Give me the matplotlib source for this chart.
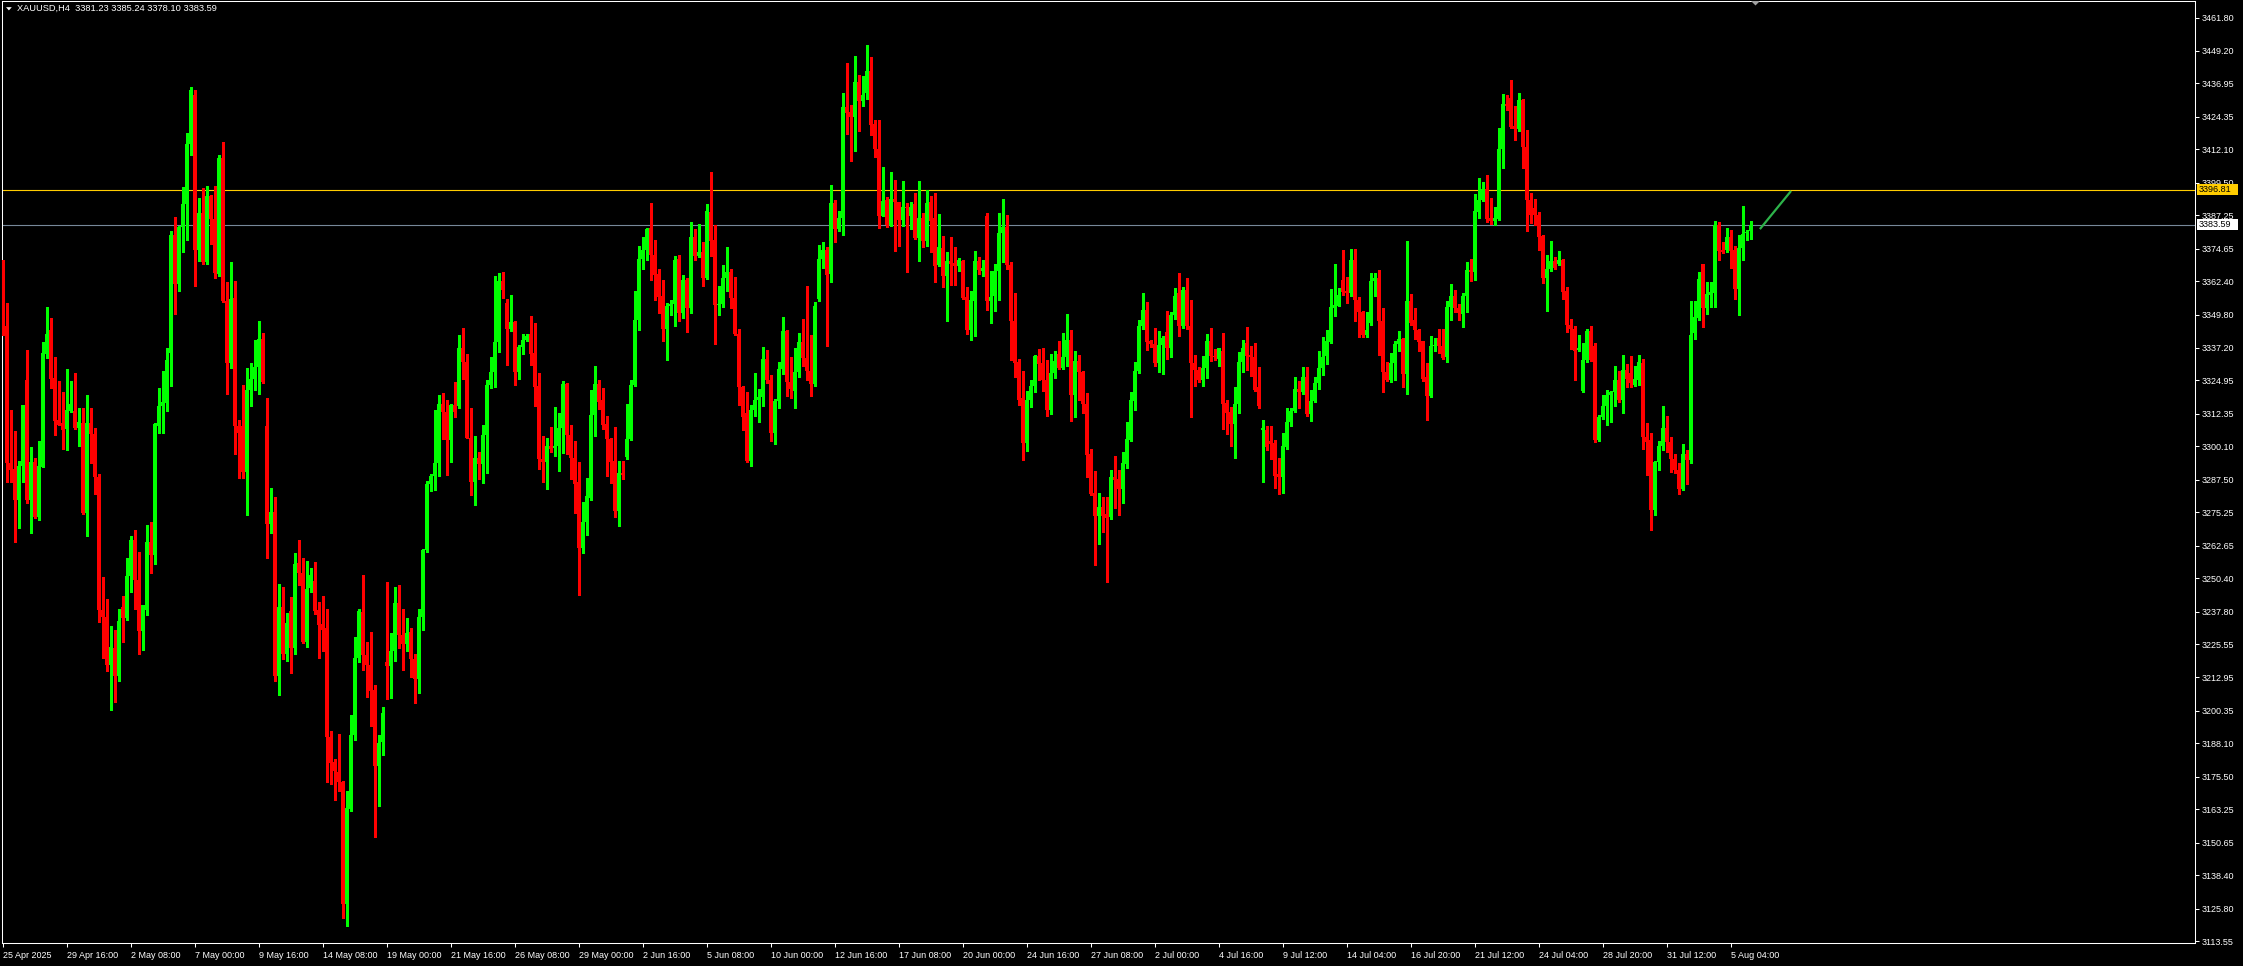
import matplotlib
matplotlib.use("Agg")
import matplotlib.pyplot as plt
from matplotlib.patches import Polygon, Rectangle
from matplotlib.transforms import blended_transform_factory
import numpy as np

plt.rcParams['font.family'] = ['Liberation Sans', 'DejaVu Sans']

# ---------------- data (XAUUSD H4 candles) ----------------
opens = [
 3351.5,3345.5,3293.9,3291.6,3279.8,3292.6,3325.1,3279.8,3294.3,3273.6,
 3292.4,3335.0,3344.0,3325.7,3310.0,3308.8,3306.7,3313.5,3313.5,3306.9,
 3308.8,3275.1,3308.8,3304.8,3288.7,3238.3,3235.8,3217.6,3223.9,3213.5,
 3239.5,3235.2,3251.1,3264.8,3249.7,3230.5,3238.3,3264.1,3259.0,3307.7,
 3315.2,3316.4,3335.4,3379.8,3361.4,3382.9,3391.6,3414.1,3432.5,3374.3,
 3387.9,3369.5,3394.5,3386.0,3365.0,3408.8,3355.0,3331.5,3356.1,3307.7,
 3307.7,3290.6,3321.2,3325.5,3330.2,3340.6,3307.9,3270.9,3275.3,3213.5,
 3239.7,3221.8,3238.1,3224.1,3256.1,3252.4,3226.3,3246.6,3249.5,3238.5,
 3233.1,3231.7,3190.4,3181.1,3177.2,3173.4,3127.4,3163.5,3191.2,3220.3,
 3237.7,3221.4,3217.6,3208.3,3179.6,3188.7,3218.6,3217.2,3223.0,3241.2,
 3229.0,3225.5,3230.0,3219.9,3212.5,3235.6,3261.0,3285.8,3289.1,3293.7,
 3316.0,3312.9,3302.3,3315.6,3315.4,3337.1,3331.8,3303.4,3286.5,3295.7,
 3293.5,3304.4,3323.2,3328.0,3339.5,3362.3,3354.0,3344.2,3346.9,3328.0,
 3337.5,3340.3,3342.3,3335.3,3322.8,3295.2,3294.3,3300.3,3299.5,3300.3,
 3307.1,3323.5,3304.4,3295.7,3286.5,3261.9,3271.4,3280.6,3312.1,3323.5,
 3317.7,3308.7,3303.0,3294.7,3275.7,3290.0,3296.2,3302.7,3323.1,3347.7,
 3370.6,3374.1,3382.4,3372.3,3365.0,3356.8,3344.5,3352.9,3353.6,3370.9,
 3350.2,3362.7,3352.2,3379.1,3372.0,3373.4,3363.6,3388.5,3378.0,3353.3,
 3353.7,3363.4,3365.7,3356.1,3342.5,3322.6,3312.5,3294.7,3313.9,3317.7,
 3318.6,3333.2,3325.2,3305.2,3317.2,3329.4,3343.5,3324.2,3321.0,3328.0,
 3339.3,3333.3,3328.6,3323.5,3355.8,3370.6,3374.1,3364.9,3392.0,3382.1,
 3386.1,3427.9,3426.2,3424.1,3437.3,3430.4,3433.2,3441.6,3421.5,3412.4,
 3387.1,3392.8,3383.7,3393.4,3392.2,3385.5,3390.5,3387.1,3391.6,3378.7,
 3386.3,3377.7,3392.4,3386.3,3368.4,3374.8,3364.2,3370.1,3369.1,3368.0,
 3369.8,3356.5,3344.1,3355.0,3370.1,3366.3,3386.8,3354.8,3356.6,3366.1,
 3380.6,3382.7,3368.3,3347.5,3332.0,3318.2,3301.5,3317.6,3322.8,3334.3,
 3331.5,3325.2,3313.9,3327.9,3334.9,3329.8,3333.9,3340.2,3319.4,3332.4,
 3328.0,3316.0,3297.1,3282.6,3273.8,3277.2,3274.7,3273.5,3288.5,3287.9,
 3284.1,3293.6,3302.4,3317.3,3328.4,3345.6,3351.6,3339.7,3338.7,3331.7,
 3338.3,3343.3,3337.2,3349.6,3357.9,3345.3,3359.1,3345.3,3331.7,3328.8,
 3325.1,3329.8,3339.7,3334.3,3333.2,3335.9,3316.6,3313.2,3308.7,3316.2,
 3332.0,3338.9,3334.6,3333.9,3322.3,3306.3,3306.2,3302.1,3301.5,3289.5,
 3288.5,3300.0,3309.1,3313.5,3321.9,3320.7,3326.4,3312.2,3317.3,3323.8,
 3329.5,3334.1,3339.4,3352.4,3353.2,3362.8,3358.7,3357.8,3370.3,3355.3,
 3350.9,3341.9,3346.6,3362.4,3363.4,3347.2,3328.3,3325.1,3331.4,3338.5,
 3340.4,3327.3,3354.9,3347.8,3344.1,3339.7,3326.3,3319.2,3337.9,3341.0,
 3338.1,3333.7,3352.8,3356.8,3352.4,3350.0,3356.6,3366.5,3365.9,3388.4,
 3393.1,3397.3,3386.1,3385.2,3385.9,3412.1,3429.1,3431.6,3420.8,3419.8,
 3430.8,3413.0,3393.0,3389.9,3387.4,3379.3,3363.7,3366.8,3369.9,3368.7,
 3370.3,3358.8,3346.0,3344.3,3336.6,3321.0,3332.5,3343.7,3338.1,3302.3,
 3311.1,3315.4,3319.4,3320.4,3325.0,3317.7,3328.8,3327.6,3323.4,3325.1,
 3331.6,3303.8,3302.3,3276.1,3294.2,3300.2,3307.1,3301.7,3295.5,3291.1,
 3284.0,3297.3,3294.8,3342.8,3348.5,3368.8,3352.2,3357.2,3358.1,3383.6,
 3374.3,3374.0,3379.0,3374.0,3359.4,3375.0,3380.5,3381.23]

highs = [
 3370.5,3354.2,3313.9,3306.0,3294.7,3315.6,3336.4,3300.0,3295.7,3302.0,
 3339.5,3352.8,3348.4,3333.8,3324.7,3320.5,3329.4,3324.7,3327.6,3314.4,
 3314.4,3319.3,3314.4,3306.9,3289.5,3250.7,3242.4,3232.5,3230.9,3238.7,
 3243.5,3257.9,3266.2,3268.5,3260.4,3240.2,3270.3,3271.6,3308.8,3322.0,
 3328.4,3337.1,3381.3,3386.6,3383.3,3397.8,3418.1,3435.5,3434.6,3393.7,
 3397.4,3398.2,3394.9,3398.2,3410.0,3414.9,3361.9,3369.5,3362.5,3310.2,
 3323.4,3329.8,3331.7,3340.2,3347.4,3342.9,3318.3,3284.4,3280.9,3248.2,
 3247.0,3237.1,3243.3,3259.8,3264.7,3257.9,3256.9,3254.2,3256.5,3241.4,
 3243.5,3238.7,3192.9,3182.1,3191.6,3174.0,3170.1,3198.8,3228.2,3238.7,
 3251.5,3226.5,3230.2,3210.0,3191.4,3201.9,3248.9,3229.6,3247.0,3247.8,
 3238.9,3235.2,3231.7,3221.8,3238.7,3261.5,3286.9,3289.5,3313.9,3319.3,
 3320.1,3317.4,3316.0,3324.5,3342.1,3344.9,3335.0,3314.6,3304.1,3298.0,
 3308.0,3325.2,3333.6,3364.3,3365.3,3365.7,3355.8,3357.3,3347.2,3338.3,
 3342.4,3342.4,3349.4,3346.7,3327.7,3304.1,3303.4,3307.2,3315.1,3312.5,
 3324.8,3323.8,3308.3,3302.0,3294.3,3279.1,3288.2,3321.4,3330.4,3325.2,
 3322.1,3311.6,3303.4,3307.2,3294.7,3294.7,3316.1,3325.2,3358.5,3375.8,
 3379.1,3382.4,3392.0,3377.9,3367.0,3362.7,3354.0,3355.1,3371.9,3372.3,
 3364.8,3363.4,3384.5,3382.1,3384.0,3377.2,3391.3,3403.5,3383.4,3360.6,
 3368.4,3375.1,3367.0,3363.9,3344.5,3323.0,3320.5,3315.7,3327.7,3321.7,
 3337.6,3336.4,3326.9,3318.1,3331.8,3348.8,3344.0,3333.9,3337.1,3342.8,
 3348.0,3360.6,3342.1,3354.7,3376.2,3377.2,3375.1,3398.8,3393.0,3388.8,
 3433.5,3444.7,3428.8,3447.1,3440.1,3439.8,3451.5,3446.9,3423.0,3423.0,
 3405.6,3394.1,3403.5,3400.4,3392.4,3400.0,3392.0,3392.2,3395.7,3400.0,
 3388.2,3396.6,3394.5,3395.6,3387.8,3379.3,3373.5,3379.0,3375.4,3371.2,
 3370.4,3360.3,3358.8,3373.9,3371.4,3370.4,3388.0,3366.4,3368.9,3388.0,
 3393.4,3387.5,3369.5,3357.8,3333.2,3328.6,3321.0,3325.2,3334.6,3336.8,
 3337.0,3332.6,3335.1,3335.9,3339.9,3342.8,3350.0,3344.0,3335.9,3334.6,
 3328.5,3320.2,3299.2,3290.8,3282.4,3281.0,3281.0,3291.2,3296.5,3291.2,
 3298.1,3309.3,3320.7,3332.0,3347.9,3357.9,3354.4,3340.2,3344.6,3343.7,
 3341.6,3351.3,3350.9,3359.8,3365.5,3360.3,3363.6,3355.3,3334.6,3330.1,
 3334.3,3342.4,3344.7,3336.8,3337.3,3342.7,3317.6,3315.1,3322.3,3335.8,
 3340.3,3345.2,3338.0,3339.0,3329.9,3310.1,3307.8,3307.8,3302.4,3295.8,
 3305.3,3314.7,3314.7,3326.1,3324.8,3330.2,3330.2,3321.4,3326.1,3335.9,
 3341.4,3344.1,3359.4,3368.8,3359.7,3374.0,3364.0,3374.6,3374.6,3356.3,
 3351.3,3350.9,3365.3,3365.3,3366.5,3352.2,3332.0,3335.4,3340.0,3343.5,
 3341.0,3377.4,3357.6,3352.4,3344.3,3339.9,3331.4,3341.6,3341.0,3344.3,
 3344.3,3354.9,3361.2,3359.1,3353.7,3357.8,3369.7,3370.7,3395.2,3401.2,
 3399.6,3402.3,3393.6,3390.5,3420.2,3433.0,3432.4,3438.2,3428.3,3433.3,
 3431.2,3419.5,3395.6,3393.4,3388.4,3379.9,3372.1,3377.4,3371.5,3373.6,
 3370.7,3360.1,3348.2,3345.3,3341.9,3338.9,3344.3,3345.6,3339.1,3312.0,
 3319.4,3321.3,3321.0,3330.4,3328.5,3334.4,3331.0,3334.1,3330.4,3334.4,
 3333.2,3308.9,3305.2,3294.6,3302.1,3315.4,3311.4,3303.6,3297.1,3293.8,
 3300.8,3298.6,3354.9,3355.0,3366.0,3369.0,3362.2,3362.2,3385.2,3384.6,
 3377.1,3382.4,3381.5,3375.5,3379.6,3390.6,3381.5,3385.24]

lows = [
 3342.0,3286.5,3286.5,3264.0,3269.3,3286.5,3278.6,3267.4,3273.0,3272.4,
 3292.4,3333.5,3322.2,3304.4,3308.0,3299.2,3298.8,3312.9,3306.7,3300.3,
 3274.5,3266.2,3293.7,3282.3,3233.8,3220.3,3215.2,3200.7,3203.8,3211.7,
 3226.3,3234.8,3245.1,3238.7,3221.8,3223.4,3236.6,3252.4,3255.9,3305.0,
 3305.0,3313.5,3323.0,3349.9,3358.8,3373.2,3377.8,3410.0,3360.4,3369.9,
 3368.8,3368.9,3376.3,3363.5,3364.5,3354.4,3319.9,3329.8,3297.2,3288.1,
 3288.1,3274.1,3315.2,3321.2,3319.9,3323.8,3257.9,3267.4,3211.7,3206.5,
 3219.9,3219.3,3214.7,3221.8,3247.8,3225.8,3224.3,3245.1,3236.9,3220.3,
 3223.0,3173.7,3172.8,3166.6,3170.3,3122.2,3119.1,3162.5,3189.3,3218.9,
 3215.8,3205.5,3194.5,3152.8,3164.6,3183.6,3204.8,3205.3,3219.0,3223.9,
 3215.8,3223.0,3213.0,3203.4,3206.9,3230.7,3260.2,3283.3,3283.7,3288.9,
 3303.0,3289.3,3294.2,3311.1,3314.6,3325.5,3303.1,3281.9,3278.1,3287.9,
 3286.1,3290.0,3322.1,3322.6,3335.7,3356.1,3330.8,3343.4,3323.1,3325.5,
 3335.0,3340.0,3330.8,3315.4,3291.4,3286.8,3284.1,3297.8,3296.4,3290.7,
 3297.5,3297.1,3287.6,3275.0,3243.9,3259.8,3266.8,3280.0,3304.1,3314.2,
 3306.6,3288.9,3286.1,3273.4,3269.9,3287.9,3295.4,3302.3,3322.8,3343.8,
 3367.0,3370.5,3362.9,3355.4,3350.5,3339.9,3332.5,3349.8,3345.6,3347.3,
 3348.4,3343.1,3350.2,3370.2,3371.5,3360.6,3363.2,3371.9,3338.8,3349.8,
 3352.6,3358.5,3352.2,3342.0,3315.8,3306.2,3294.2,3292.6,3311.6,3309.4,
 3315.4,3324.1,3302.0,3301.0,3314.6,3327.3,3318.9,3318.4,3314.6,3326.3,
 3330.5,3325.2,3318.9,3322.8,3355.0,3367.4,3337.8,3362.0,3377.2,3381.4,
 3379.6,3418.0,3407.7,3411.4,3419.0,3428.6,3431.0,3417.6,3409.2,3382.6,
 3386.8,3382.7,3383.0,3373.7,3375.6,3383.0,3365.7,3381.9,3378.3,3370.1,
 3375.2,3375.6,3373.5,3362.2,3368.0,3360.1,3347.2,3361.1,3361.1,3366.1,
 3355.6,3342.4,3340.2,3341.6,3364.9,3364.2,3351.5,3346.5,3351.3,3355.3,
 3369.5,3366.8,3332.7,3326.3,3315.6,3295.0,3298.4,3315.1,3320.4,3325.1,
 3321.0,3311.6,3312.2,3325.8,3329.2,3329.2,3330.5,3309.5,3311.3,3317.6,
 3312.8,3288.7,3281.6,3255.5,3263.4,3267.9,3248.9,3272.8,3277.0,3274.1,
 3278.8,3292.1,3302.0,3313.9,3327.9,3344.3,3336.5,3337.4,3330.5,3328.3,
 3327.3,3333.0,3333.6,3348.1,3341.6,3344.7,3344.3,3311.3,3322.7,3324.5,
 3322.9,3325.8,3332.3,3332.7,3330.5,3306.6,3304.7,3300.3,3295.8,3312.6,
 3328.3,3328.8,3326.7,3320.8,3314.7,3286.8,3298.6,3295.2,3284.3,3282.2,
 3282.6,3299.0,3307.6,3313.2,3314.4,3319.8,3311.6,3309.7,3316.9,3321.7,
 3327.1,3331.0,3339.1,3349.3,3353.1,3357.2,3354.1,3356.6,3347.2,3341.3,
 3341.5,3341.3,3346.0,3356.6,3334.5,3320.4,3324.8,3324.4,3325.1,3336.0,
 3322.3,3320.0,3345.8,3340.4,3336.2,3324.8,3310.2,3318.6,3336.0,3335.4,
 3333.2,3332.0,3347.9,3350.7,3347.9,3345.0,3350.6,3362.6,3363.0,3386.2,
 3392.7,3384.6,3384.0,3383.4,3385.5,3404.9,3426.8,3420.0,3415.5,3418.9,
 3405.2,3381.3,3384.2,3383.7,3374.3,3361.8,3351.3,3366.2,3366.8,3368.3,
 3355.6,3343.2,3336.9,3325.1,3336.0,3320.6,3332.0,3332.3,3301.9,3302.0,
 3310.4,3308.3,3309.4,3315.4,3316.7,3312.5,3322.3,3322.3,3323.0,3323.3,
 3299.0,3289.2,3268.7,3274.2,3291.1,3298.6,3297.9,3290.5,3290.2,3282.1,
 3283.6,3285.9,3293.8,3340.4,3347.9,3345.0,3350.1,3352.8,3352.8,3370.5,
 3373.0,3373.4,3367.5,3355.6,3349.7,3370.3,3377.8,3378.10]

closes = [
 3342.9,3293.7,3291.2,3279.8,3292.6,3315.6,3279.8,3294.3,3273.6,3292.8,
 3335.2,3342.4,3325.3,3309.6,3308.1,3306.1,3313.9,3316.2,3306.9,3309.2,
 3275.1,3308.8,3304.8,3288.5,3238.3,3235.8,3217.6,3224.3,3213.5,3234.4,
 3235.2,3251.1,3264.8,3249.7,3230.5,3240.2,3264.1,3259.0,3308.4,3315.2,
 3316.8,3332.5,3379.8,3361.4,3382.9,3391.6,3414.1,3434.6,3374.3,3387.9,
 3369.5,3394.5,3386.0,3365.4,3408.8,3354.8,3331.5,3355.7,3307.7,3305.0,
 3290.6,3321.2,3325.5,3330.2,3340.6,3324.3,3270.9,3275.3,3213.5,3239.7,
 3221.8,3233.3,3224.1,3255.7,3252.4,3226.3,3246.2,3251.7,3237.9,3232.7,
 3231.0,3190.4,3180.7,3177.6,3173.4,3127.4,3163.9,3191.2,3220.3,3238.1,
 3221.4,3217.6,3207.9,3179.6,3188.3,3199.7,3217.2,3223.0,3241.2,3229.0,
 3225.5,3229.6,3219.9,3212.5,3235.6,3261.0,3285.8,3289.1,3293.7,3316.0,
 3312.9,3302.3,3315.6,3313.0,3337.1,3331.8,3303.4,3286.5,3295.7,3293.5,
 3304.4,3323.2,3328.0,3339.5,3362.3,3358.9,3344.2,3346.9,3328.0,3337.5,
 3340.3,3341.8,3335.0,3322.4,3295.2,3294.3,3300.3,3299.2,3300.1,3307.1,
 3323.5,3304.4,3295.7,3285.8,3261.9,3271.4,3281.2,3312.1,3323.5,3316.8,
 3308.3,3303.0,3294.3,3275.7,3290.0,3289.3,3302.7,3323.1,3347.7,3370.6,
 3374.1,3382.1,3372.3,3364.6,3356.4,3344.5,3352.9,3353.6,3370.5,3350.2,
 3362.7,3352.2,3379.1,3372.0,3373.4,3363.6,3388.9,3377.7,3353.3,3353.7,
 3363.4,3365.7,3356.1,3342.3,3322.6,3311.1,3294.7,3313.9,3317.7,3318.6,
 3333.2,3325.2,3305.2,3317.2,3329.4,3343.5,3324.2,3321.7,3328.0,3339.3,
 3333.3,3328.4,3323.5,3353.0,3370.6,3374.1,3364.6,3392.0,3382.1,3386.1,
 3427.9,3425.8,3424.4,3437.3,3430.4,3432.5,3441.6,3421.1,3412.1,3387.1,
 3392.7,3383.7,3393.4,3392.2,3385.5,3390.5,3389.9,3390.5,3378.7,3386.3,
 3377.7,3391.9,3384.9,3368.0,3375.2,3364.2,3370.1,3368.9,3368.0,3370.5,
 3356.0,3344.1,3355.4,3370.1,3366.7,3367.4,3354.8,3356.3,3366.4,3380.6,
 3382.7,3368.3,3347.2,3331.7,3317.6,3301.5,3317.6,3322.7,3334.3,3331.1,
 3325.1,3313.9,3327.9,3332.4,3329.8,3333.9,3340.2,3319.4,3332.4,3328.0,
 3316.0,3296.7,3282.0,3273.8,3277.2,3273.8,3273.2,3288.5,3287.4,3284.1,
 3293.9,3302.8,3317.6,3328.6,3345.6,3351.6,3339.3,3338.7,3331.7,3338.3,
 3340.9,3337.2,3349.6,3356.7,3345.3,3359.1,3345.3,3331.4,3328.8,3325.1,
 3329.8,3339.7,3334.3,3333.6,3337.0,3316.2,3312.8,3308.7,3316.2,3332.0,
 3337.0,3334.3,3333.6,3321.3,3315.4,3306.9,3300.0,3300.9,3288.9,3288.5,
 3300.3,3309.1,3313.5,3321.9,3320.7,3326.4,3312.2,3317.3,3323.8,3329.5,
 3333.9,3339.7,3352.5,3353.4,3357.2,3358.4,3357.8,3370.3,3355.1,3350.9,
 3341.9,3344.1,3362.4,3363.4,3347.2,3328.1,3325.1,3331.4,3338.5,3340.4,
 3327.3,3354.9,3346.6,3343.8,3339.4,3325.6,3319.2,3337.9,3338.4,3337.9,
 3333.5,3352.8,3356.6,3352.2,3350.3,3356.8,3366.5,3365.9,3388.7,3393.1,
 3397.3,3385.9,3385.2,3386.1,3412.1,3429.1,3428.3,3420.5,3419.8,3430.8,
 3413.0,3393.0,3387.4,3387.4,3379.0,3363.7,3366.8,3369.9,3367.2,3370.5,
 3358.4,3345.7,3344.3,3336.0,3337.2,3332.5,3343.7,3332.5,3302.3,3311.3,
 3315.4,3319.4,3320.6,3325.0,3317.7,3328.8,3325.6,3323.9,3325.4,3331.9,
 3303.6,3301.7,3276.1,3294.2,3300.4,3307.1,3301.7,3295.2,3291.1,3284.0,
 3297.3,3294.8,3342.2,3348.7,3363.2,3352.2,3357.6,3358.4,3383.6,3373.8,
 3373.4,3379.0,3373.8,3359.3,3375.0,3380.0,3381.0,3383.59]

time_labels = ["25 Apr 2025", "29 Apr 16:00", "2 May 08:00", "7 May 00:00", "9 May 16:00",
               "14 May 08:00", "19 May 00:00", "21 May 16:00", "26 May 08:00", "29 May 00:00",
               "2 Jun 16:00", "5 Jun 08:00", "10 Jun 00:00", "12 Jun 16:00", "17 Jun 08:00",
               "20 Jun 00:00", "24 Jun 16:00", "27 Jun 08:00", "2 Jul 00:00", "4 Jul 16:00",
               "9 Jul 12:00", "14 Jul 04:00", "16 Jul 20:00", "21 Jul 12:00", "24 Jul 04:00",
               "28 Jul 20:00", "31 Jul 12:00", "5 Aug 04:00"]
bars_per_label = 16

price_ticks = [3461.80, 3449.20, 3436.95, 3424.35, 3412.10, 3399.50, 3387.25, 3374.65,
               3362.40, 3349.80, 3337.20, 3324.95, 3312.35, 3300.10, 3287.50, 3275.25,
               3262.65, 3250.40, 3237.80, 3225.55, 3212.95, 3200.35, 3188.10, 3175.50,
               3163.25, 3150.65, 3138.40, 3125.80, 3113.55]

level_price = 3396.81      # yellow horizontal level
bid_price = 3383.59        # bid line
trend_x = [439.3, 447.1]   # bar index of the short green trend line
trend_y = [3382.0, 3396.4]
header = "XAUUSD,H4  3381.23 3385.24 3378.10 3383.59"

# ---------------- figure ----------------
W, H = 2243, 966
fig = plt.figure(figsize=(W / 100, H / 100), dpi=100, facecolor='black')

L_px, R_px, T_px, B_px = 1.5, 2195.0, 0.7, 943.0
ax = fig.add_axes([L_px / W, 1 - B_px / H, (R_px - L_px) / W, (B_px - T_px) / H])
ax.set_facecolor('black')

# price <-> pixel calibration (3461.80 at y=17.5 px, 2.652 px per dollar)
ppd = 2.652
def price_at(ypx):
    return 3461.80 - (ypx - 17.5) / ppd
ax.set_ylim(price_at(B_px), price_at(T_px))
# bar i centred at x = 2.67 + 4 i px
ax.set_xlim((L_px - 2.67) / 4.0, (R_px - 2.67) / 4.0)

o = np.array(opens); hh = np.array(highs); ll = np.array(lows); c = np.array(closes)
n = min(len(o), len(hh), len(ll), len(c))
o, hh, ll, c = o[:n], hh[:n], ll[:n], c[:n]
hh = np.maximum(hh, np.maximum(o, c))
ll = np.minimum(ll, np.minimum(o, c))
x = np.arange(n)
up = c >= o
cols = np.where(up, '#00FF00', '#FF0000')

ax.vlines(x, ll, hh, colors=cols, linewidth=0.75, antialiased=False, zorder=3)
body_bottom = np.minimum(o, c)
body_h = np.maximum(np.abs(c - o), 0.38)
ax.bar(x, body_h, bottom=body_bottom, width=0.75, color=cols, linewidth=0,
       antialiased=False, zorder=4)

ax.axhline(level_price, color='#FFCC00', linewidth=0.8, zorder=2)
ax.axhline(bid_price, color='#778899', linewidth=0.8, zorder=2)
ax.plot(trend_x, trend_y, color='#2DB34A', linewidth=1.6, solid_capstyle='butt', zorder=5)

for s in ax.spines.values():
    s.set_color('white')
    s.set_linewidth(0.75)

ax.yaxis.tick_right()
ax.set_yticks(price_ticks)
ax.set_yticklabels([f"{v:.2f}" for v in price_ticks])
ax.tick_params(axis='y', colors='white', direction='out', length=3, width=0.75,
               pad=1.5, labelsize=6.5)
ax.set_xticks(np.arange(len(time_labels)) * bars_per_label)
ax.set_xticklabels(time_labels, ha='left')
ax.tick_params(axis='x', colors='white', direction='out', length=3, width=0.75,
               pad=2.5, labelsize=6.5)

# price tags on the right scale
bt = blended_transform_factory(fig.transFigure, ax.transData)
tag_h = 11 / ppd
for price, face in [(level_price, '#FFCC00'), (bid_price, 'white')]:
    ax.add_patch(Rectangle((2196.5 / W, price - tag_h / 2), 41 / W, tag_h, transform=bt,
                           facecolor=face, edgecolor='none', clip_on=False, zorder=10))
    ax.text(2198.3 / W, price, f"{price:.2f}", transform=bt, color='black', fontsize=6.5,
            ha='left', va='center', clip_on=False, zorder=11)

# header text and small markers
def fx(px): return px / W
def fy(py): return 1 - py / H
fig.text(fx(16.7), fy(8.6), header, color='white', fontsize=6.7, ha='left', va='center')
fig.add_artist(Polygon([(fx(6.0), fy(7.2)), (fx(11.8), fy(7.2)), (fx(8.9), fy(10.4))],
                       closed=True, facecolor='white', edgecolor='none',
                       transform=fig.transFigure))
fig.add_artist(Polygon([(fx(1751), fy(1.0)), (fx(1760), fy(1.0)), (fx(1755.5), fy(5.5))],
                       closed=True, facecolor='#A0A0A0', edgecolor='none',
                       transform=fig.transFigure))

fig.savefig('out.png', dpi=100, facecolor='black')
